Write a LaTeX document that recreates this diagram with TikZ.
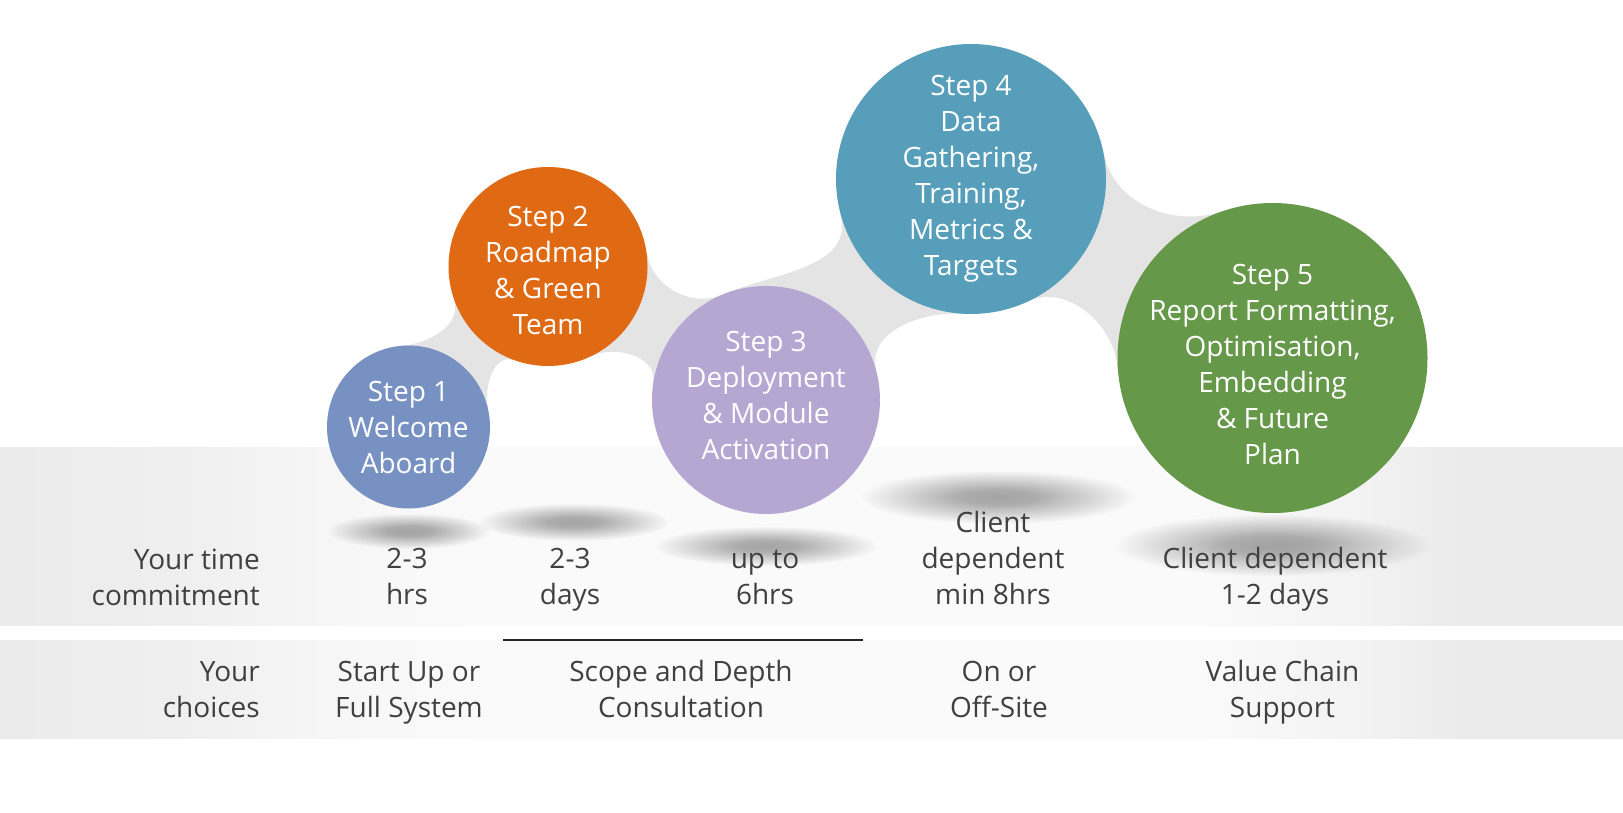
\documentclass[tikz,border=0pt]{standalone}
\usepackage{fontspec}
\setmainfont{Open Sans}
\usepackage{xcolor}
\usepackage{tikz}
\usetikzlibrary{fadings}

\definecolor{stepone}{HTML}{7891C3}
\definecolor{steptwo}{HTML}{E06914}
\definecolor{stepthree}{HTML}{B6A6D2}
\definecolor{stepfour}{HTML}{569EB9}
\definecolor{stepfive}{HTML}{66984A}
\definecolor{labelgray}{HTML}{404040}
\definecolor{bridgegray}{HTML}{E4E4E4}

\pgfdeclarelayer{back}
\pgfsetlayers{back,main}

\pgfdeclarehorizontalshading{bandfade}{100bp}{color(0bp)=(black!8); color(25bp)=(black!8); color(31bp)=(black!6); color(36bp)=(black!3); color(40bp)=(black!2); color(62bp)=(black!2); color(67bp)=(black!5); color(70bp)=(black!8); color(75bp)=(black!8); color(100bp)=(black!8)}

\pgfdeclareradialshading{shadowblur}{\pgfpointorigin}{color(0bp)=(pgftransparent!0); color(7bp)=(pgftransparent!10); color(25bp)=(pgftransparent!100); color(50bp)=(pgftransparent!100)}
\pgfdeclarefading{softshadow}{\pgfuseshading{shadowblur}}

\begin{document}
\begin{tikzpicture}[
x=1pt,
y=1pt,
font=\fontsize{28}{36}\selectfont,
stepball/.style={
circle,
inner sep=-20pt,
minimum size=#1,
align=center,
text=white
},
infotext/.style={
inner sep=0pt,
anchor=base,
align=center,
text=labelgray
},
rowtext/.style={
inner sep=0pt,
anchor=base east,
align=right,
text=labelgray
},
bridge/.style={
fill=bridgegray
},
blur/.style={
fill=black,
opacity=0.34,
path fading=softshadow
}
]

\useasboundingbox (0,0) rectangle (1623,-813);

%%%%%%%%%%%%%%%%%%%%%%%%%%%%%%%%%%%%%%%%%%%%%
% Steps
%%%%%%%%%%%%%%%%%%%%%%%%%%%%%%%%%%%%%%%%%%%%%

\node[stepball=163pt, fill=stepone] (s1) at (408.5,-427)
{Step 1\\Welcome\\Aboard};

\node[stepball=199pt, fill=steptwo] (s2) at (548,-266.5)
{\rule{0pt}{28pt}Step 2\\Roadmap\\\& Green\\Team};

\node[stepball=228pt, fill=stepthree] (s3) at (766,-400)
{Step 3\\Deployment\\\& Module\\Activation\rule[-10pt]{0pt}{0pt}};

\node[stepball=270pt, fill=stepfour] (s4) at (971,-179)
{Step 4\\Data\\Gathering,\\Training,\\Metrics \&\\Targets};

\node[stepball=310pt, fill=stepfive] (s5) at (1272.5,-358)
{\rule{0pt}{34pt}Step 5\\Report Formatting,\\Optimisation,\\Embedding\\\& Future\\Plan};

%%%%%%%%%%%%%%%%%%%%%%%%%%%%%%%%%%%%%%%%%%%%%
% Time commitment
%%%%%%%%%%%%%%%%%%%%%%%%%%%%%%%%%%%%%%%%%%%%%

\node[rowtext] (timelbl) at (260,-605) {Your time\\commitment};

\node[infotext] (time1) at (407,-604) {2-3\\hrs};

\node[infotext] (time2) at (570,-604) {2-3\\days};

\node[infotext] (time3) at (765,-604) {up to\\6hrs};

\node[infotext] (time4) at (993,-604) {Client\\dependent\\min 8hrs};

\node[infotext] (time5) at (1275,-604) {Client dependent\\1-2 days};

%%%%%%%%%%%%%%%%%%%%%%%%%%%%%%%%%%%%%%%%%%%%%
% Choices
%%%%%%%%%%%%%%%%%%%%%%%%%%%%%%%%%%%%%%%%%%%%%

\node[rowtext] (choicelbl) at (260,-717) {Your\\choices};

\node[infotext] (choice1) at (409,-717) {Start Up or\\Full System};

\node[infotext] (choice2) at (681,-717) {Scope and Depth\\Consultation};

\node[infotext] (choice3) at (999,-717) {On or\\Off-Site};

\node[infotext] (choice4) at (1282.5,-717) {Value Chain\\Support};

\coordinate (rulel) at (503,-640);
\coordinate (ruler) at (863,-640);
\draw[black!85, line width=1.2pt] (rulel)--(ruler);

%%%%%%%%%%%%%%%%%%%%%%%%%%%%%%%%%%%%%%%%%%%%%
% Bands, shadows and bridges
%%%%%%%%%%%%%%%%%%%%%%%%%%%%%%%%%%%%%%%%%%%%%

\begin{pgfonlayer}{back}
\fill[white] (0,0) rectangle (1623,-813);
\shade[shading=bandfade] (0,-447) rectangle (1623,-625);
\shade[shading=bandfade] (0,-640) rectangle (1623,-738);

\foreach \cx/\cy/\rx/\ry in {409/531/82/18, 574/522/96/19, 766/546/112/20, 998/497/138/27, 1272/545/158/31}{
\fill[blur] (\cx,-\cy) ellipse [x radius=\rx pt, y radius=\ry pt];
}

\fill[bridge] (s1.94) to[out=4,in=289] (s2.199) -- (s2.center)
-- (s2.250) to[out=160,in=103] (s1.13) -- (s1.center) -- cycle;

\fill[bridge] (s2.8) to[out=-82,in=203] (s3.113) -- (s3.center)
-- (s3.171) to[out=81,in=26] (s2.296) -- (s2.center) -- cycle;

\fill[bridge] (s3.113) to[out=23,in=285] (s4.195) -- (s4.center)
-- (s4.266) to[out=176,in=105] (s3.15) -- (s3.center) -- cycle;

\fill[bridge] (s4.11) to[out=-79,in=199] (s5.109) -- (s5.center)
-- (s5.184) to[out=94,in=25] (s4.295) -- (s4.center) -- cycle;
\end{pgfonlayer}

\end{tikzpicture}
\end{document}
